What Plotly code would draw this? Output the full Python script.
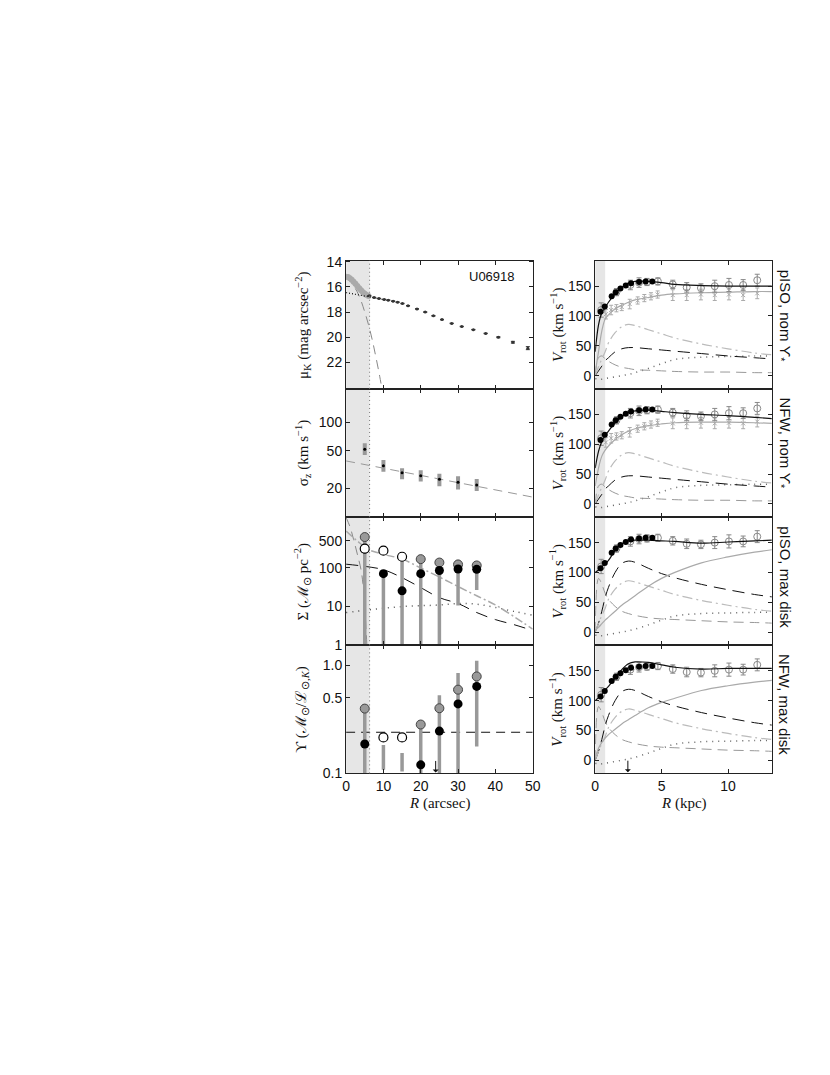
import math
import plotly.graph_objects as go

W, H = 830, 1075

# ---------------- left column (R in arcsec) ----------------
# surface brightness
mu_in_r = [0, 0.5, 1, 1.5, 2, 2.5, 3, 3.5, 4, 4.5, 5, 5.5, 6]
mu_in = [15.2, 15.22, 15.3, 15.42, 15.58, 15.75, 15.93, 16.1, 16.27, 16.42, 16.55, 16.65, 16.72]
mu_r = [6.2, 7.5, 8.8, 10.2, 11.3, 12.6, 13.8, 15.1, 16.6, 19.0, 21.2, 23.4, 25.7, 28.3,
        31.0, 34.1, 37.4, 40.8, 44.7, 48.7]
mu = [16.71, 16.84, 16.92, 17.0, 17.05, 17.13, 17.21, 17.32, 17.5, 17.75, 18.0, 18.3, 18.6,
      18.9, 19.15, 19.4, 19.7, 20.0, 20.4, 20.87]
mu_err = [0.02] * 17 + [0.04, 0.07, 0.12]
bulge_r = [0, 1, 2, 3, 4, 5, 6, 7, 8, 9, 9.6]
bulge_mu = [15.2, 15.45, 15.9, 16.4, 17.1, 18.0, 19.0, 20.2, 21.6, 23.1, 24.1]
disk_r = [0, 10]
disk_mu = [16.45, 17.0]

# stellar velocity dispersion
sig_r = [5, 10, 15, 20, 25, 30, 35]
sig = [52, 34.7, 29.3, 27.2, 24.9, 23.2, 21.7]
sig_lo = [45, 30, 24.9, 23.6, 21, 19.4, 18.7]
sig_hi = [60, 40, 32.7, 31, 28.5, 26.8, 25]
sig_fit_r = [0, 50]
sig_fit = [39, 16.1]

# mass surface density
dens_r = [5, 10, 15, 20, 25, 30, 35]
dens_gray = [630, None, None, 169, 138, 123, 116]
dens_open = [315, 280, 195, None, None, None, None]
dens_black = [310, 71, 25.5, 71, 86, 94, 92]
dens_lo = [0.5, 0.5, 0.5, 0.5, 0.5, 10.6, 27]
dens_hi = [630, 75, 190, 169, 140, 163, 135]
tot_r = [0, 3, 6, 10, 15, 20, 25, 30, 35, 40, 45, 50]
tot_dens = [900, 500, 300, 225, 170, 100, 58, 33, 19, 11, 5.5, 2.6]
exp_r = [0, 5, 10, 15, 20, 25, 30, 35, 40, 45, 50]
exp_dens = [125, 110, 90, 56, 31, 17, 12, 7, 4.6, 3.4, 2.4]
bul_r = [0, 1, 2, 3, 4, 4.5, 5, 5.3, 5.6]
bul_dens = [2000, 1200, 550, 230, 90, 40, 10, 3, 0.9]
gas_r = [0, 5, 10, 15, 20, 25, 30, 35, 40, 45, 50]
gas_dens = [7, 8, 9, 10, 10.5, 11, 12, 11.5, 9.5, 7.5, 6]

# mass-to-light ratio
ml_r = [5, 10, 15, 20, 25, 30, 35]
ml_gray = [0.397, None, None, 0.283, 0.40, 0.594, 0.787]
ml_open = [None, 0.215, 0.215, None, None, None, None]
ml_black = [0.187, None, None, 0.12, 0.246, 0.439, 0.637]
ml_lo = [0.09, 0.108, 0.104, 0.09, 0.09, 0.09, 0.177]
ml_hi = [0.397, 0.183, 0.154, 0.28, 0.527, 0.845, 1.1]
ml_nom_r = [0, 50]
ml_nom = [0.24, 0.24]
ml_band = [0.1, 0.325]

# ---------------- right column (R in kpc) ----------------
hal_r = [0.40, 0.72, 1.24, 1.55, 1.9, 2.3, 2.7, 3.3, 3.8, 4.3]
hal_v = [107, 116, 133, 140, 146, 151, 155, 157, 158, 158]
hi_r = [0.45, 1.6, 2.65, 3.3, 3.9, 4.72, 5.84, 6.89, 7.96, 9.0, 10.07, 11.14, 12.2]
hi_v = [110, 140, 152, 156, 157, 158, 153, 148, 147, 150, 152, 152, 160]
hi_e = [12, 6, 8, 8, 6, 6, 7, 8, 7, 10, 11, 9, 10]
st_r = [0.8, 1.2, 1.6, 2.0, 2.6, 3.2, 3.7, 4.2, 4.7, 5.84, 6.89, 7.96, 9.0, 10.07, 11.14, 12.2]
st_v = [103, 110, 113, 115, 120, 126, 130, 133, 136, 135, 135, 136, 135, 136, 135, 138]
st_e = [8, 8, 6, 6, 8, 6, 6, 6, 6, 9, 9, 9, 9, 9, 9, 9]

rr = [0, 0.25, 0.5, 0.75, 1, 1.5, 2, 2.5, 3, 4, 5, 6, 8, 10, 12, 13.3]
v_disk_nom = [0, 15, 28, 40, 55, 72, 82, 86, 84, 77, 70, 63, 53, 45, 38, 35]
v_disk_max = [0, 15, 35, 58, 75, 100, 115, 119, 117, 107, 98, 91, 80, 71, 63, 59]
v_dd_nom = [0, 8, 16, 25, 30, 40, 45, 47, 47, 45, 43, 41, 37, 33, 30, 28]
v_bul_nom = [0, 30, 33, 28, 24, 18, 14, 12, 10, 9, 8, 7, 6, 6, 5, 5]
v_bul_max = [0, 90, 80, 65, 55, 43, 35, 31, 28, 24, 22, 21, 19, 17, 16, 15]
v_gas = [-5, -6, -6, -5, -4, -2, 0, 2, 5, 12, 20, 27, 31, 32, 33, 33]
v_halo = {
    "piso_nom": [5, 40, 75, 95, 102, 112, 118, 123, 127, 131, 135, 137, 139, 140, 141, 141],
    "nfw_nom": [30, 60, 80, 90, 97, 108, 116, 122, 126, 131, 134, 136, 137, 137, 136, 135],
    "piso_max": [3, 8, 14, 20, 25, 35, 45, 53, 61, 77, 90, 100, 116, 126, 134, 138],
    "nfw_max": [5, 20, 30, 37, 43, 52, 61, 68, 75, 88, 97, 104, 117, 125, 131, 134],
}
v_tot = {
    "piso_nom": [40, 85, 106, 114, 123, 137, 148, 155, 158, 158, 156, 153, 151, 150, 150, 150],
    "nfw_nom": [60, 88, 105, 115, 122, 136, 146, 153, 156, 157, 155, 153, 150, 148, 145, 143],
    "piso_max": [100, 104, 110, 114, 120, 137, 148, 153, 154, 154, 153, 152, 149, 151, 153, 154],
    "nfw_max": [100, 105, 110, 118, 124, 138, 152, 162, 165, 164, 160, 156, 153, 154, 154, 154],
}
models = ["piso_nom", "nfw_nom", "piso_max", "nfw_max"]
model_names = ["pISO, nom ϒ<sub>*</sub>", "NFW, nom ϒ<sub>*</sub>",
               "pISO, max disk", "NFW, max disk"]

# ---------------- layout helpers ----------------
TICKFONT = dict(family="Liberation Sans, Arial, sans-serif", size=14, color="#111")
SERIF = dict(family="Liberation Serif, Times New Roman, serif", size=15, color="#111")


# page pixel -> paper coordinate (small correction for the page offset)
def px(x):
    return (x - 5 + 0.007 * (x - 344)) / W


def py(y):
    return 1 - (y - 7 + 0.008 * (y - 256)) / H


row_top = [256, 385, 514, 643]
row_bot = [385, 514, 643, 772]
left_dom = [px(344), px(532)]
right_dom = [px(595), px(773)]


def axis(**kw):
    d = dict(showline=True, linecolor="#222", linewidth=1.2, mirror="ticks", ticks="inside",
             ticklen=4, tickwidth=1, tickcolor="#222", showgrid=False, zeroline=False,
             tickfont=TICKFONT)
    d.update(kw)
    return d


def ref(i):
    return ("x" if i == 1 else f"x{i}"), ("y" if i == 1 else f"y{i}")


fig = go.Figure()
layout = {}
for i in range(8):
    row = i % 4
    n = i + 1
    xd = left_dom if i < 4 else right_dom
    yd = [py(row_bot[row]), py(row_top[row])]
    xa, ya = ref(n)
    if i < 4:
        xkw = dict(range=[0, 50], tickvals=[0, 10, 20, 30, 40, 50])
    else:
        xkw = dict(range=[0, 13.3], tickvals=[0, 5, 10])
    layout["xaxis" if n == 1 else f"xaxis{n}"] = axis(
        domain=xd, anchor=ya, showticklabels=(row == 3), **xkw)
    if i == 0:
        ykw = dict(range=[24.1, 13.9], tickvals=[14, 16, 18, 20, 22])
    elif i == 1:
        ykw = dict(type="log", range=[0.996, 2.358], tickvals=[20, 50, 100])
    elif i == 2:
        ykw = dict(type="log", range=[0, 3.32], tickvals=[1, 10, 100, 500])
    elif i == 3:
        ykw = dict(type="log", range=[-1, 0.185], tickvals=[0.1, 0.5, 1.0],
                   ticktext=["0.1", "0.5", "1.0"])
    else:
        ykw = dict(range=[-22, 193], tickvals=[0, 50, 100, 150])
    layout["yaxis" if n == 1 else f"yaxis{n}"] = axis(domain=yd, anchor=xa, **ykw)

shapes = []
# shaded inner regions
for n in range(1, 9):
    xa, ya = ref(n)
    x1 = 6.3 if n <= 4 else 0.75
    shapes.append(dict(type="rect", xref=xa, yref=f"{ya} domain", x0=0, x1=x1, y0=0, y1=1,
                       fillcolor="#e6e6e6", line_width=0, layer="below"))
shapes.append(dict(type="rect", xref="x4 domain", yref="y4", x0=0, x1=1,
                   y0=math.log10(ml_band[0]), y1=math.log10(ml_band[1]),
                   fillcolor="#d7d7d7", line_width=0, layer="below"))
for n in range(1, 5):
    xa, ya = ref(n)
    shapes.append(dict(type="line", xref=xa, yref=f"{ya} domain", x0=6.3, x1=6.3, y0=0, y1=1,
                       line=dict(color="#777", width=1, dash="1px,3px")))


# ---------------- traces: left column ----------------
def add(tr, n):
    xa, ya = ref(n)
    tr.update(xaxis=xa, yaxis=ya, showlegend=False, hoverinfo="skip")
    fig.add_trace(tr)


def bars(xs, lo, hi):
    bx, by = [], []
    for r, a, b in zip(xs, lo, hi):
        bx += [r, r, None]
        by += [a, b, None]
    return bx, by


add(go.Scatter(x=bulge_r, y=bulge_mu, mode="lines", line_shape="spline",
               line=dict(color="#888", width=1, dash="9px,6px")), 1)
add(go.Scatter(x=mu_in_r, y=mu_in, mode="lines+markers", line=dict(color="#aaa", width=4),
               marker=dict(color="#aaa", size=6)), 1)
add(go.Scatter(x=disk_r, y=disk_mu, mode="lines", line=dict(color="#111", width=1.2, dash="1px,2px")), 1)
add(go.Scatter(x=mu_r, y=mu, mode="markers", marker=dict(color="#333", size=3),
               error_y=dict(type="data", array=mu_err, color="#333", thickness=1, width=2)), 1)

add(go.Scatter(x=sig_fit_r, y=sig_fit, mode="lines", line=dict(color="#999", width=1, dash="9px,6px")), 2)
bx, by = bars(sig_r, sig_lo, sig_hi)
add(go.Scatter(x=bx, y=by, mode="lines", line=dict(color="#999", width=4)), 2)
add(go.Scatter(x=sig_r, y=sig, mode="markers", marker=dict(color="#000", size=3)), 2)

add(go.Scatter(x=bul_r, y=bul_dens, mode="lines", line_shape="spline",
               line=dict(color="#888", width=1, dash="9px,6px")), 3)
add(go.Scatter(x=gas_r, y=gas_dens, mode="lines", line_shape="spline",
               line=dict(color="#555", width=1.5, dash="1px,5px")), 3)
add(go.Scatter(x=tot_r, y=tot_dens, mode="lines", line_shape="spline",
               line=dict(color="#aaa", width=1.5, dash="8px,3px,2px,3px")), 3)
add(go.Scatter(x=exp_r, y=exp_dens, mode="lines", line_shape="spline",
               line=dict(color="#111", width=1, dash="12px,8px")), 3)
bx, by = bars(dens_r, dens_lo, dens_hi)
add(go.Scatter(x=bx, y=by, mode="lines", line=dict(color="#999", width=3.5)), 3)
add(go.Scatter(x=dens_r, y=dens_gray, mode="markers",
               marker=dict(color="#999", size=9, line=dict(color="#444", width=1))), 3)
add(go.Scatter(x=dens_r, y=dens_black, mode="markers", marker=dict(color="#000", size=9)), 3)
add(go.Scatter(x=dens_r, y=dens_open, mode="markers",
               marker=dict(color="#fff", size=9, line=dict(color="#000", width=1.2))), 3)

add(go.Scatter(x=ml_nom_r, y=ml_nom, mode="lines", line=dict(color="#111", width=1, dash="9px,6px")), 4)
bx, by = bars(ml_r, ml_lo, ml_hi)
add(go.Scatter(x=bx, y=by, mode="lines", line=dict(color="#999", width=3.5)), 4)
add(go.Scatter(x=ml_r, y=ml_gray, mode="markers",
               marker=dict(color="#999", size=9, line=dict(color="#444", width=1))), 4)
add(go.Scatter(x=ml_r, y=ml_black, mode="markers", marker=dict(color="#000", size=9)), 4)
add(go.Scatter(x=ml_r, y=ml_open, mode="markers",
               marker=dict(color="#fff", size=9, line=dict(color="#000", width=1.2))), 4)

# ---------------- traces: right column ----------------
for k, m in enumerate(models):
    n = 5 + k
    nominal = m.endswith("nom")
    add(go.Scatter(x=rr, y=v_gas, mode="lines", line_shape="spline",
                   line=dict(color="#666", width=1.5, dash="1px,5px")), n)
    add(go.Scatter(x=rr, y=v_bul_nom if nominal else v_bul_max, mode="lines", line_shape="spline",
                   line=dict(color="#999", width=1, dash="10px,6px")), n)
    add(go.Scatter(x=rr, y=v_dd_nom if nominal else v_disk_max, mode="lines", line_shape="spline",
                   line=dict(color="#111", width=1, dash="12px,7px")), n)
    add(go.Scatter(x=rr, y=v_disk_nom, mode="lines", line_shape="spline",
                   line=dict(color="#bbb", width=1.2, dash="10px,4px,2px,4px")), n)
    add(go.Scatter(x=rr, y=v_halo[m], mode="lines", line_shape="spline",
                   line=dict(color="#aaa", width=1.2)), n)
    if nominal:
        add(go.Scatter(x=st_r, y=st_v, mode="markers",
                       marker=dict(symbol="x-thin", color="#aaa", size=4, line=dict(color="#aaa", width=1)),
                       error_y=dict(type="data", array=st_e, color="#aaa", thickness=1, width=2)), n)
    add(go.Scatter(x=hi_r, y=hi_v, mode="markers",
                   marker=dict(symbol="circle-open", color="#888", size=7, line=dict(width=1)),
                   error_y=dict(type="data", array=hi_e, color="#888", thickness=1, width=2.5)), n)
    add(go.Scatter(x=rr, y=v_tot[m], mode="lines", line_shape="spline",
                   line=dict(color="#111", width=1.2)), n)
    add(go.Scatter(x=hal_r, y=hal_v, mode="markers", marker=dict(color="#000", size=6)), n)

# ---------------- annotations ----------------
ann = []
ytitles = ["μ<sub>K</sub> (mag arcsec<sup>−2</sup>)", "σ<sub>z</sub> (km s<sup>−1</sup>)",
           "Σ (ℳ<sub>⊙</sub> pc<sup>−2</sup>)", "ϒ (ℳ<sub>⊙</sub>/ℒ<sub>⊙,<i>K</i></sub>)"]
for row in range(4):
    yc = (py(row_top[row]) + py(row_bot[row])) / 2
    ann.append(dict(text=ytitles[row], x=px(300), y=yc, xref="paper", yref="paper",
                    textangle=-90, showarrow=False, font=SERIF, xanchor="center", yanchor="middle"))
    ann.append(dict(text="<i>V</i><sub>rot</sub> (km s<sup>−1</sup>)", x=px(557), y=yc,
                    xref="paper", yref="paper", textangle=-90, showarrow=False, font=SERIF,
                    xanchor="center", yanchor="middle"))
    ann.append(dict(text=model_names[row], x=px(786), y=py(row_top[row] + 7),
                    xref="paper", yref="paper", textangle=90, showarrow=False,
                    font=dict(family="Liberation Sans, Arial, sans-serif", size=15, color="#111"),
                    xanchor="center", yanchor="top"))
ann.append(dict(text="<i>R</i> (arcsec)", x=px(438), y=py(802), xref="paper", yref="paper",
                showarrow=False, font=SERIF, xanchor="center", yanchor="middle"))
ann.append(dict(text="<i>R</i> (kpc)", x=px(684), y=py(802), xref="paper", yref="paper",
                showarrow=False, font=SERIF, xanchor="center", yanchor="middle"))
ann.append(dict(text="U06918", x=39, y=15.2, xref="x", yref="y", showarrow=False,
                font=dict(family="Liberation Sans, Arial, sans-serif", size=13, color="#111")))
ann.append(dict(text="", x=24, y=math.log10(0.102), xref="x4", yref="y4", ax=0, ay=-13,
                showarrow=True, arrowhead=1, arrowsize=1, arrowwidth=1, arrowcolor="#111"))
ann.append(dict(text="", x=2.46, y=-20, xref="x8", yref="y8", ax=0, ay=-13,
                showarrow=True, arrowhead=1, arrowsize=1, arrowwidth=1, arrowcolor="#111"))

fig.update_layout(width=W, height=H, autosize=False, margin=dict(l=0, r=0, t=0, b=0),
                  paper_bgcolor="white", plot_bgcolor="white", shapes=shapes, annotations=ann,
                  **layout)
fig.write_html("out.html")
